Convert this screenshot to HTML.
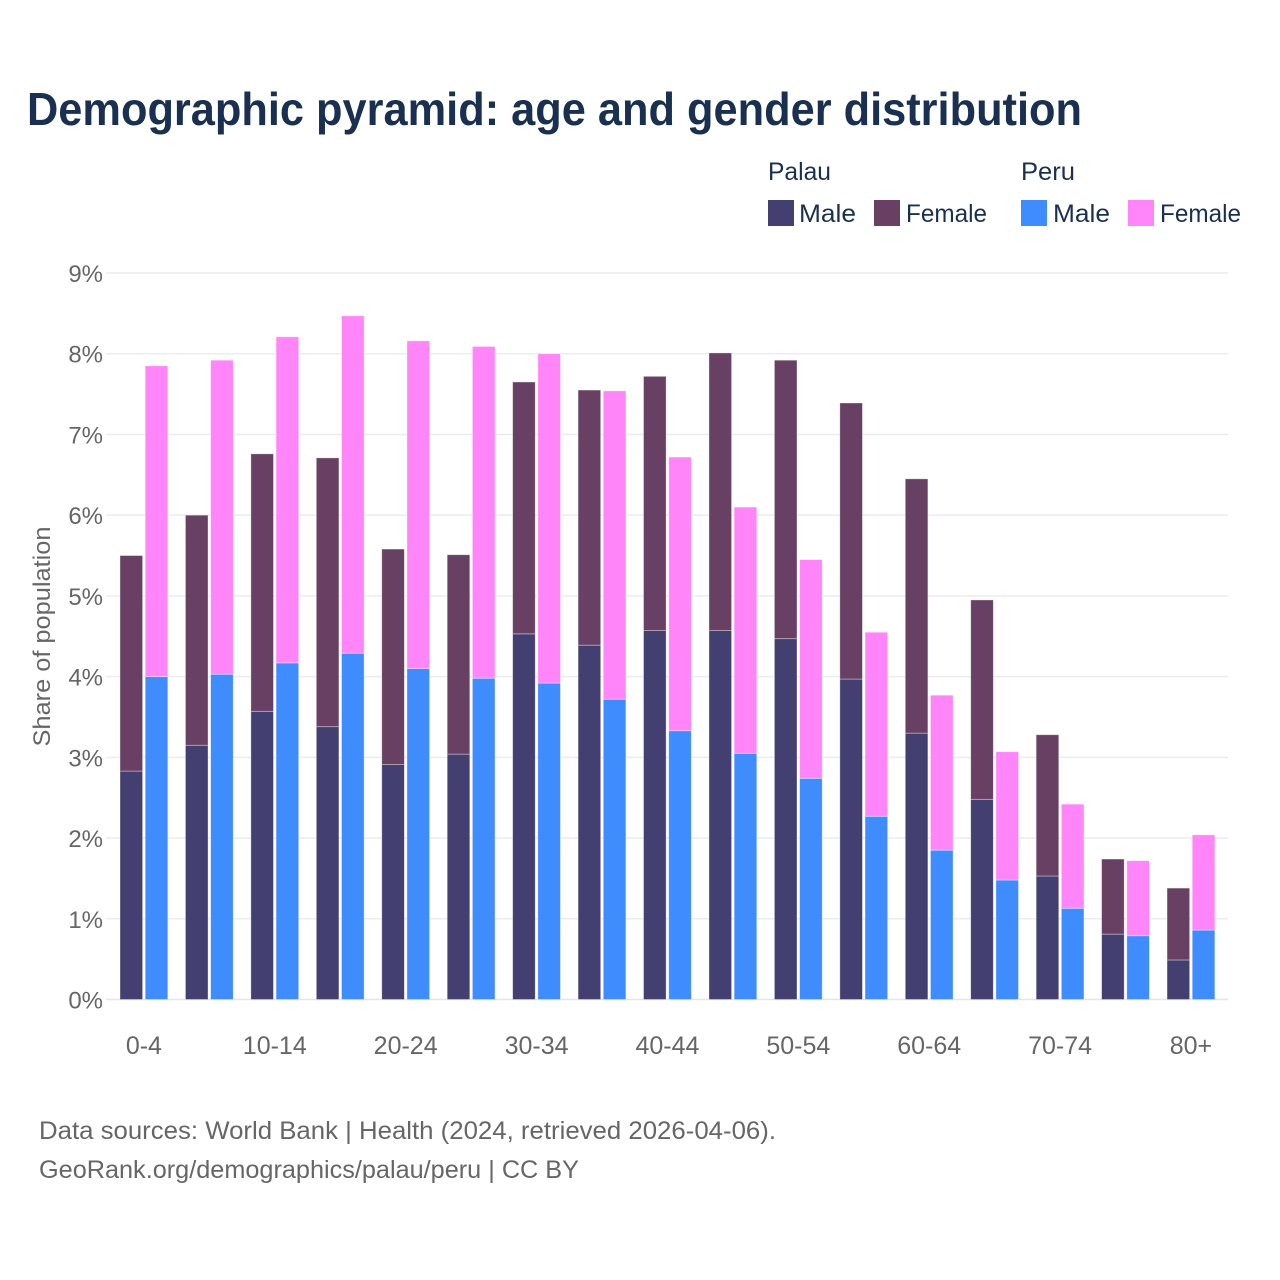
<!DOCTYPE html>
<html lang="en">
<head>
<meta charset="utf-8">
<title>Demographic pyramid: age and gender distribution</title>
<style>
html,body{margin:0;padding:0;background:#fff;width:1280px;height:1280px;overflow:hidden}
svg{display:block}
text{font-family:"Liberation Sans",sans-serif}
</style>
</head>
<body>
<svg id="chart" xmlns="http://www.w3.org/2000/svg" width="1280" height="1280" viewBox="0 0 1280 1280">
  <rect x="0" y="0" width="1280" height="1280" fill="#fff"/>
  <text x="27" y="125" font-size="46" font-weight="700" fill="#1a3050" textLength="1055" lengthAdjust="spacingAndGlyphs">Demographic pyramid: age and gender distribution</text>

  <g font-size="25" fill="#1a3050">
    <text x="768" y="180" textLength="63" lengthAdjust="spacingAndGlyphs">Palau</text>
    <text x="1021" y="180" textLength="54" lengthAdjust="spacingAndGlyphs">Peru</text>
    <rect x="768" y="200" width="26" height="26" fill="#433f70"/>
    <text x="799" y="222" textLength="57" lengthAdjust="spacingAndGlyphs">Male</text>
    <rect x="874" y="200" width="26" height="26" fill="#674063"/>
    <text x="906" y="222" textLength="81" lengthAdjust="spacingAndGlyphs">Female</text>
    <rect x="1021" y="200" width="26" height="26" fill="#3f8cff"/>
    <text x="1053" y="222" textLength="57" lengthAdjust="spacingAndGlyphs">Male</text>
    <rect x="1128" y="200" width="26" height="26" fill="#ff85f8"/>
    <text x="1160" y="222" textLength="81" lengthAdjust="spacingAndGlyphs">Female</text>
  </g>

  <g id="grid"></g>
  <g id="bars"></g>
  <g id="yticks"></g>
  <g id="xticks"></g>

  <text transform="translate(50,636.5) rotate(-90)" text-anchor="middle" font-size="24.5" fill="#666" textLength="220" lengthAdjust="spacingAndGlyphs">Share of population</text>

  <text x="39" y="1139" font-size="25" fill="#666" textLength="737" lengthAdjust="spacingAndGlyphs">Data sources: World Bank | Health (2024, retrieved 2026-04-06).</text>
  <text x="39" y="1178" font-size="25" fill="#666" textLength="540" lengthAdjust="spacingAndGlyphs">GeoRank.org/demographics/palau/peru | CC BY</text>
</svg>
<script>
const ageGroups = ["0-4","5-9","10-14","15-19","20-24","25-29","30-34","35-39","40-44","45-49","50-54","55-59","60-64","65-69","70-74","75-79","80+"];
const xTickLabels = ["0-4","10-14","20-24","30-34","40-44","50-54","60-64","70-74","80+"];
const yTickValues = [0,1,2,3,4,5,6,7,8,9];
const palauMale = [2.83,3.15,3.57,3.38,2.91,3.04,4.53,4.39,4.57,4.57,4.47,3.97,3.30,2.48,1.53,0.81,0.49];
const palauFemale = [2.67,2.85,3.19,3.33,2.67,2.47,3.12,3.16,3.15,3.44,3.45,3.42,3.15,2.47,1.75,0.93,0.89];
const peruMale = [4.00,4.03,4.17,4.29,4.10,3.98,3.92,3.72,3.33,3.05,2.74,2.27,1.85,1.48,1.13,0.79,0.86];
const peruFemale = [3.85,3.89,4.04,4.18,4.06,4.11,4.08,3.82,3.39,3.05,2.71,2.28,1.92,1.59,1.29,0.93,1.18];

const NS = "http://www.w3.org/2000/svg";
const plotLeft = 106, plotRight = 1228, y0 = 999.5, pxPerPct = 80.72;
const groupStep = 65.44, firstBar = 120, barW = 22.6, barGap = 2.6;
function yScale(v){ return y0 - v * pxPerPct; }
function groupX(i){ return firstBar + i * groupStep; }
function groupCenter(i){ return groupX(i) + barW + barGap / 2; }

const gridG = document.getElementById("grid");
const yG = document.getElementById("yticks");
const xG = document.getElementById("xticks");
const barsG = document.getElementById("bars");

yTickValues.forEach(function(v){
  const l = document.createElementNS(NS, "line");
  
  
  l.setAttribute("x1", plotLeft);
  l.setAttribute("x2", plotRight);
  l.setAttribute("y1", yScale(v));
  l.setAttribute("y2", yScale(v));
  l.setAttribute("stroke", v === 0 ? "#e4e4ec" : "#ececf0");
  l.setAttribute("stroke-width", "1.5");
  gridG.appendChild(l);
  const t = document.createElementNS(NS, "text");
  
  
  t.setAttribute("x", 103);
  t.setAttribute("y", yScale(v) + 9);
  t.setAttribute("text-anchor", "end");
  t.setAttribute("font-size", "24");
  t.setAttribute("fill", "#666");
  t.textContent = v + "%";
  yG.appendChild(t);
});

xTickLabels.forEach(function(label){
  const i = ageGroups.indexOf(label);
  const t = document.createElementNS(NS, "text");
  
  
  t.setAttribute("x", groupCenter(i));
  t.setAttribute("y", 1054);
  t.setAttribute("text-anchor", "middle");
  t.setAttribute("font-size", "25");
  t.setAttribute("fill", "#666");
  t.textContent = label;
  xG.appendChild(t);
});

function addBar(x, base, val, color){
  const r = document.createElementNS(NS, "rect");
  
  
  r.setAttribute("x", x);
  r.setAttribute("y", yScale(base + val));
  r.setAttribute("width", barW);
  r.setAttribute("height", yScale(base) - yScale(base + val));
  r.setAttribute("fill", color);
  r.setAttribute("stroke", "#fff");
  r.setAttribute("stroke-opacity", "0.45");
  r.setAttribute("stroke-width", "0.8");
  barsG.appendChild(r);
}

ageGroups.forEach(function(_, i){
  const xa = groupX(i), xb = xa + barW + barGap;
  addBar(xa, 0, palauMale[i], "#433f70");
  addBar(xa, palauMale[i], palauFemale[i], "#674063");
  addBar(xb, 0, peruMale[i], "#3f8cff");
  addBar(xb, peruMale[i], peruFemale[i], "#ff85f8");
});
</script>
</body>
</html>
